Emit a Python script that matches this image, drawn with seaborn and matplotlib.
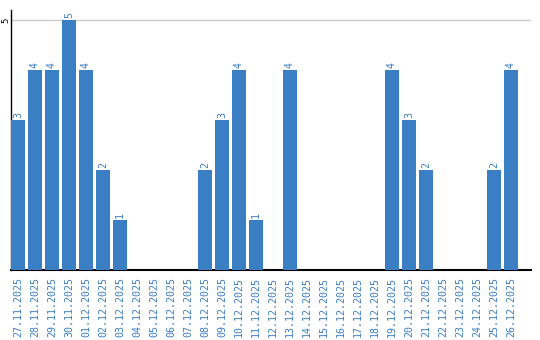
import matplotlib
matplotlib.use("Agg")
import matplotlib.pyplot as plt
import seaborn as sns
import pandas as pd

dates = ["27.11.2025", "28.11.2025", "29.11.2025", "30.11.2025", "01.12.2025",
         "02.12.2025", "03.12.2025", "04.12.2025", "05.12.2025", "06.12.2025",
         "07.12.2025", "08.12.2025", "09.12.2025", "10.12.2025", "11.12.2025",
         "12.12.2025", "13.12.2025", "14.12.2025", "15.12.2025", "16.12.2025",
         "17.12.2025", "18.12.2025", "19.12.2025", "20.12.2025", "21.12.2025",
         "22.12.2025", "23.12.2025", "24.12.2025", "25.12.2025", "26.12.2025"]
counts = [3, 4, 4, 5, 4, 2, 1, 0, 0, 0,
          0, 2, 3, 4, 1, 0, 4, 0, 0, 0,
          0, 0, 4, 3, 2, 0, 0, 0, 2, 4]

BLUE = "#3a7ec4"
df = pd.DataFrame({"date": dates, "count": counts})

sns.set_style("white")
plt.rcParams['font.family'] = ['DejaVu Sans Mono', 'DejaVu Sans']

fig = plt.figure(figsize=(5.4, 3.4), dpi=100)
ax = fig.add_axes([11/540, 1 - 270/340, 520/540, 260/340])

sns.barplot(data=df, x="date", y="count", color=BLUE, saturation=1,
            width=14/17, ax=ax, zorder=3, linewidth=0, edgecolor="none")

ax.set_xlim(-7/17, 30 + 3/17)
ax.set_ylim(0, 5.2)
ax.set_yticks([5])
ax.set_yticklabels(["5"], rotation=90, va="center", ha="center", fontsize=6.5,
                   color="black")
ax.tick_params(axis="y", length=0, pad=4)
for lbl in ax.get_yticklabels():
    lbl.set_horizontalalignment("center")
ax.axhline(5, color="#cccccc", lw=1, zorder=1)

ax.set_xticks(range(len(dates)))
ax.set_xticklabels(dates, rotation=90, fontsize=7.2, color=BLUE, va="top")
ax.tick_params(axis="x", length=0, pad=5)

for i, v in enumerate(counts):
    if v > 0:
        ax.text(i, v + 0.05, str(v), rotation=90, ha="center", va="bottom",
                fontsize=7.2, color=BLUE)

for s in ["top", "right"]:
    ax.spines[s].set_visible(False)
ax.spines["left"].set_color("black")
ax.spines["bottom"].set_color("black")
ax.spines["left"].set_linewidth(1)
ax.spines["bottom"].set_linewidth(1.5)
ax.set_xlabel("")
ax.set_ylabel("")

fig.savefig("out.png", dpi=100)
